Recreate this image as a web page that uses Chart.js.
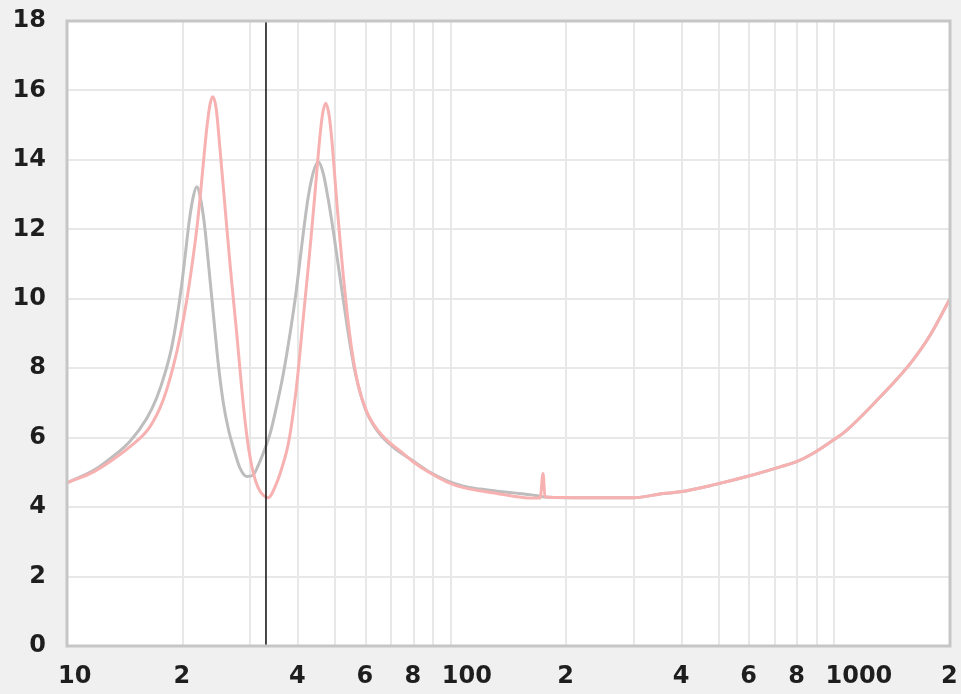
<!DOCTYPE html>
<html>
<head>
<meta charset="utf-8">
<script src="https://cdn.jsdelivr.net/npm/chart.js@4.4.0/dist/chart.umd.min.js"></script>
<style>
  body { margin: 0; background: #f0f0f0; }
  canvas { display: block; }
</style>
</head>
<body>
<canvas id="impChart" width="961" height="694"></canvas>
<script>
  // Pink curve (frequency in Hz, value)
  const pinkFreq = [10, 11.7, 12.9, 14.6, 16.46, 17.82, 18.92, 19.70, 20.51, 21.13,
    21.78, 22.22, 22.66, 23.13, 23.59, 23.98, 24.46, 25.05, 25.55, 26.16,
    26.60, 27.13, 27.69, 28.24, 28.93, 29.72, 30.59, 31.52, 32.62, 33.41,
    35.20, 36.28, 37.38, 38.13, 38.89, 39.53, 40.07, 40.90, 41.72, 42.55,
    43.42, 44.29, 44.91, 45.64, 46.39, 47.23, 48.17, 48.97, 49.64, 50.63,
    51.45, 52.49, 53.76, 55.20, 57.43, 60.40, 64.14, 68.10, 73.78, 79.9,
    88.4, 97.6, 108, 119, 132, 146, 161, 171, 174, 176,
    185, 217, 299, 358, 396, 484, 591, 722, 797, 881,
    993, 1077, 1315, 1453, 1605, 1775, 2000];
  const pinkValues = [4.70, 5.01, 5.30, 5.74, 6.32, 7.09, 8.05, 8.90, 9.95, 10.90,
    12.00, 12.90, 13.90, 14.90, 15.60, 15.82, 15.50, 14.30, 13.20, 11.90,
    11.00, 10.00, 9.00, 7.95, 6.75, 5.70, 4.98, 4.55, 4.32, 4.27,
    4.70, 5.12, 5.62, 6.10, 6.75, 7.35, 7.95, 9.00, 9.97, 10.93,
    11.98, 13.05, 13.85, 14.70, 15.35, 15.63, 15.30, 14.60, 13.80, 12.60,
    11.70, 10.65, 9.55, 8.55, 7.50, 6.75, 6.25, 5.93, 5.62, 5.30,
    4.98, 4.73, 4.56, 4.47, 4.39, 4.31, 4.26, 4.26, 4.97, 4.30,
    4.28, 4.27, 4.27, 4.39, 4.44, 4.64, 4.88, 5.16, 5.31, 5.55,
    5.93, 6.22, 7.17, 7.68, 8.25, 8.95, 10.00];

  // Gray curve
  const grayFreq = [10, 11.7, 12.9, 14.6, 16.13, 17.13, 18.00, 18.74, 19.31, 19.90,
    20.30, 20.83, 21.34, 21.78, 22.44, 22.89, 23.35, 23.83, 24.31, 24.80,
    25.55, 26.33, 27.41, 28.24, 29.40, 30.59, 31.52, 32.81, 33.80, 34.84,
    36.63, 38.13, 39.29, 40.31, 41.29, 42.55, 43.85, 45.18, 46.56, 47.97,
    49.43, 50.94, 52.49, 54.08, 56.30, 59.79, 64.14, 70.87, 79.9, 88.4,
    97.6, 108, 119, 132, 146, 161, 171, 176, 185, 217,
    299, 358, 396, 484, 591, 722, 797, 881, 993, 1077,
    1315, 1453, 1605, 1775, 2000];
  const grayValues = [4.70, 5.05, 5.38, 5.90, 6.55, 7.15, 7.85, 8.60, 9.40, 10.40,
    11.20, 12.25, 12.95, 13.23, 12.70, 12.00, 11.05, 10.05, 9.05, 8.10,
    7.00, 6.25, 5.55, 5.12, 4.88, 4.93, 5.21, 5.69, 6.10, 6.70,
    7.85, 9.00, 9.97, 10.95, 11.90, 12.95, 13.65, 13.95, 13.60, 12.85,
    11.95, 10.95, 9.97, 9.00, 7.90, 6.85, 6.22, 5.72, 5.33, 5.00,
    4.76, 4.60, 4.52, 4.46, 4.41, 4.36, 4.31, 4.29, 4.28, 4.27,
    4.27, 4.39, 4.44, 4.64, 4.88, 5.16, 5.31, 5.55, 5.93, 6.22,
    7.17, 7.68, 8.25, 8.95, 10.00];

  // Vertical cursor
  const cursorFreq = 33;

  // Axis ticks
  const xTicks = [10, 20, 30, 40, 50, 60, 70, 80, 90,
    100, 200, 300, 400, 500, 600, 700, 800, 900, 1000, 2000];
  const xLabels = ['10', '2', '', '4', '', '6', '', '8', '',
    '100', '2', '', '4', '', '6', '', '8', '', '1000', '2'];
  const yMin = 0, yMax = 18, yStep = 2;

  const toPoints = (xs, ys) => xs.map((x, i) => ({ x: x, y: ys[i] }));

  // Background + frame around plot area
  const plotFrame = {
    id: 'plotFrame',
    beforeDraw(chart) {
      const { ctx, chartArea: a } = chart;
      ctx.save();
      ctx.fillStyle = '#f0f0f0';
      ctx.fillRect(0, 0, chart.width, chart.height);
      ctx.fillStyle = '#ffffff';
      ctx.fillRect(a.left, a.top, a.right - a.left, a.bottom - a.top);
      ctx.restore();
    },
    afterDraw(chart) {
      const { ctx, chartArea: a } = chart;
      ctx.save();
      ctx.strokeStyle = '#c6c6c6';
      ctx.lineWidth = 3;
      ctx.strokeRect(a.left, a.top, a.right - a.left, a.bottom - a.top);
      ctx.restore();
    }
  };

  // no extra label overhang padding, the layout padding takes care of it
  const noOverhang = scale => {
    scale.paddingLeft = 0;
    scale.paddingRight = 0;
    scale.paddingTop = 0;
    scale.paddingBottom = 0;
  };

  const ctx = document.getElementById('impChart').getContext('2d');

  new Chart(ctx, {
    type: 'line',
    data: {
      datasets: [
        {
          data: [{ x: cursorFreq, y: yMin }, { x: cursorFreq, y: yMax }],
          borderColor: '#1c1c1c',
          borderWidth: 1.6,
          pointRadius: 0,
        },
        {
          data: toPoints(pinkFreq, pinkValues),
          borderColor: '#f7b1b1',
          borderWidth: 3,
          pointRadius: 0,
          cubicInterpolationMode: 'monotone',
        },
        {
          data: toPoints(grayFreq, grayValues),
          borderColor: '#bdbdbd',
          borderWidth: 3,
          pointRadius: 0,
          cubicInterpolationMode: 'monotone',
        },
      ],
    },
    options: {
      responsive: false,
      animation: false,
      layout: { padding: { top: 21, right: 11, left: 0, bottom: 0 } },
      plugins: { legend: { display: false }, tooltip: { enabled: false } },
      scales: {
        x: {
          type: 'logarithmic',
          min: 10,
          max: 2000,
          afterBuildTicks: scale => { scale.ticks = xTicks.map(v => ({ value: v })); },
          afterFit: scale => { scale.height = 48; noOverhang(scale); },
          grid: { color: '#e8e8e8', lineWidth: 2, drawTicks: false },
          border: { display: false },
          ticks: {
            autoSkip: false,
            maxRotation: 0,
            minRotation: 0,
            align: 'start',
            labelOffset: -9,
            padding: 16,
            color: '#1e1e1e',
            font: { family: 'DejaVu Sans', size: 24, weight: 'bold' },
            callback: (value, index) => xLabels[index],
          },
        },
        y: {
          min: yMin,
          max: yMax,
          afterFit: scale => { scale.width = 67; noOverhang(scale); },
          grid: { color: '#e8e8e8', lineWidth: 2, drawTicks: false },
          border: { display: false },
          ticks: {
            stepSize: yStep,
            padding: 21,
            color: '#1e1e1e',
            font: { family: 'DejaVu Sans', size: 24, weight: 'bold' },
          },
        },
      },
    },
    plugins: [plotFrame],
  });
</script>
</body>
</html>
